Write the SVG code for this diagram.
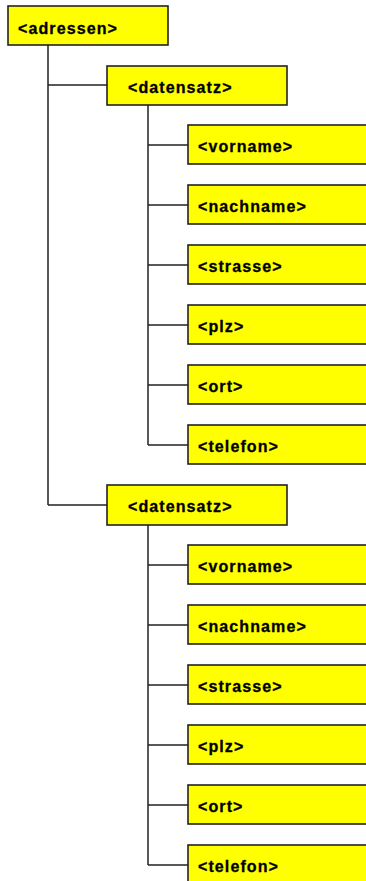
<svg xmlns="http://www.w3.org/2000/svg" width="366" height="881" viewBox="0 0 366 881">
<style>
.box{fill:#ffff00;stroke:#222;stroke-width:1.6}
.lbl{font-family:"Liberation Sans",Arial,sans-serif;font-weight:bold;font-size:16px;letter-spacing:1.1px;fill:#000;stroke:#000;stroke-width:0.3}
.con{stroke:#222;stroke-width:1.5;fill:none}
</style>
<rect width="366" height="881" fill="#fff"/>
<g id="connectors">
<path class="con" d="M48 45V505M48 85H107M48 505H107"/>
<path class="con" d="M148 105V445M148 145H188M148 205H188M148 265H188M148 325H188M148 385H188M148 445H188"/>
<path class="con" d="M148 525V865M148 565H188M148 625H188M148 685H188M148 745H188M148 805H188M148 865H188"/>
</g>
<g id="adressen"><rect class="box" x="8" y="6" width="160" height="39"/><text class="lbl" x="18" y="33.5">&lt;adressen&gt;</text></g>
<g id="datensatz1"><rect class="box" x="107" y="66" width="180" height="39"/><text class="lbl" x="128" y="92.5">&lt;datensatz&gt;</text></g>
<g id="vorname1"><rect class="box" x="188" y="125" width="200" height="39"/><text class="lbl" x="198" y="151.5">&lt;vorname&gt;</text></g>
<g id="nachname1"><rect class="box" x="188" y="185" width="200" height="39"/><text class="lbl" x="198" y="211.5">&lt;nachname&gt;</text></g>
<g id="strasse1"><rect class="box" x="188" y="245" width="200" height="39"/><text class="lbl" x="198" y="271.5">&lt;strasse&gt;</text></g>
<g id="plz1"><rect class="box" x="188" y="305" width="200" height="39"/><text class="lbl" x="198" y="331.5">&lt;plz&gt;</text></g>
<g id="ort1"><rect class="box" x="188" y="365" width="200" height="39"/><text class="lbl" x="198" y="391.5">&lt;ort&gt;</text></g>
<g id="telefon1"><rect class="box" x="188" y="425" width="200" height="39"/><text class="lbl" x="198" y="451.5">&lt;telefon&gt;</text></g>
<g id="datensatz2"><rect class="box" x="107" y="485" width="180" height="40"/><text class="lbl" x="128" y="512">&lt;datensatz&gt;</text></g>
<g id="vorname2"><rect class="box" x="188" y="545" width="200" height="39"/><text class="lbl" x="198" y="571.5">&lt;vorname&gt;</text></g>
<g id="nachname2"><rect class="box" x="188" y="605" width="200" height="39"/><text class="lbl" x="198" y="631.5">&lt;nachname&gt;</text></g>
<g id="strasse2"><rect class="box" x="188" y="665" width="200" height="39"/><text class="lbl" x="198" y="691.5">&lt;strasse&gt;</text></g>
<g id="plz2"><rect class="box" x="188" y="725" width="200" height="39"/><text class="lbl" x="198" y="751.5">&lt;plz&gt;</text></g>
<g id="ort2"><rect class="box" x="188" y="785" width="200" height="39"/><text class="lbl" x="198" y="811.5">&lt;ort&gt;</text></g>
<g id="telefon2"><rect class="box" x="188" y="845" width="200" height="39"/><text class="lbl" x="198" y="871.5">&lt;telefon&gt;</text></g>
</svg>
